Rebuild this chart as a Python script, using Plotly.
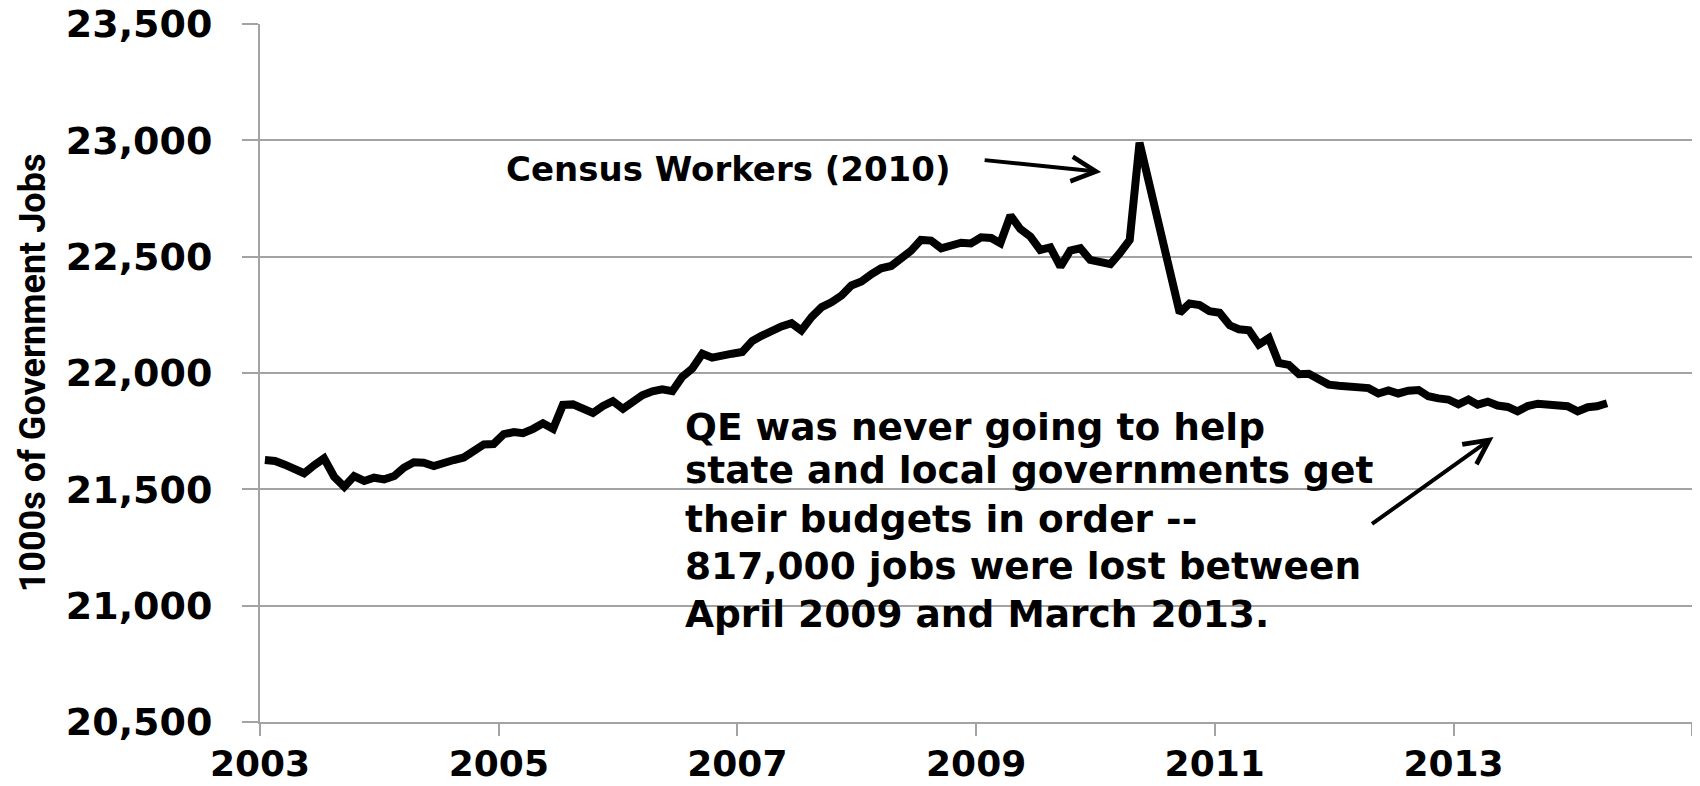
import pandas as pd
import plotly.graph_objects as go

# monthly government employment, thousands, Jan 2003 .. Apr 2014
jobs = [
    21626, 21622, 21607, 21590, 21569, 21604, 21633, 21554, 21511, 21557, 21536, 21550,  # 2003
    21543, 21557, 21593, 21616, 21614, 21600, 21609, 21626, 21637, 21662, 21693, 21695,  # 2004
    21737, 21746, 21741, 21760, 21784, 21760, 21863, 21865, 21846, 21828, 21858, 21879,  # 2005
    21846, 21875, 21904, 21921, 21930, 21922, 21983, 22019, 22083, 22066, 22079, 22083,  # 2006
    22090, 22138, 22160, 22185, 22200, 22214, 22183, 22240, 22283, 22304, 22333, 22376,  # 2007
    22393, 22425, 22450, 22460, 22493, 22526, 22572, 22569, 22536, 22550, 22560, 22557,  # 2008
    22583, 22580, 22558, 22677, 22619, 22586, 22529, 22540, 22457, 22526, 22536, 22486,  # 2009
    22481, 22468, 22514, 22572, 22990, 22801, 22615, 22435, 22259, 22299, 22292, 22266,  # 2010
    22259, 22205, 22188, 22184, 22122, 22150, 22043, 22035, 21995, 21997, 21970, 21950,  # 2011
    21945, 21943, 21941, 21935, 21912, 21925, 21912, 21924, 21927, 21900, 21891, 21886,  # 2012
    21865, 21886, 21864, 21877, 21860, 21854, 21835, 21858, 21868, 21862, 21860, 21857,  # 2013
    21835, 21853, 21857, 21870,  # 2014
]
start_month = "2003-01-01"

year_ticks = ["2003-01-01", "2005-01-01", "2007-01-01", "2009-01-01",
              "2011-01-01", "2013-01-01", "2015-01-01"]
year_labels = ["2003", "2005", "2007", "2009", "2011", "2013", ""]
y_ticks = [20500, 21000, 21500, 22000, 22500, 23000, 23500]

census_note = "Census Workers (2010)"
qe_lines = [
    "QE was never going to help",
    "state and local governments get",
    "their budgets in order --",
    "817,000 jobs were lost between",
    "April 2009 and March 2013.",
]
y_title = "1000s of Government Jobs"

# points sit mid-month, like Excel's date axis
months = pd.date_range(start_month, periods=len(jobs), freq="MS") + pd.Timedelta(days=15)

GRID = "#a3a3a3"
BOLD = dict(family="DejaVu Sans", color="black", weight="bold")

fig = go.Figure()
fig.add_trace(go.Scatter(x=months, y=jobs, mode="lines",
                         line=dict(color="black", width=8), hoverinfo="x+y"))

# page body keeps its default 8px margin, so the figure is 16px smaller than the window
fig.update_layout(
    width=1684, height=770,
    margin=dict(l=252, r=0, t=16, b=56),
    paper_bgcolor="white", plot_bgcolor="white",
    showlegend=False,
    xaxis=dict(
        type="date", range=["2003-01-01", "2015-01-01"],
        tickvals=year_ticks, ticktext=year_labels,
        showgrid=False, showline=True, linecolor=GRID, linewidth=2,
        ticks="outside", ticklen=12, tickwidth=2, tickcolor=GRID,
        tickfont=dict(size=36, **BOLD), ticklabelstandoff=-3,
        ticklabeloverflow="allow", automargin=False,
    ),
    yaxis=dict(
        range=[20500, 23500], tickvals=y_ticks, tickformat=",d",
        showgrid=True, gridcolor=GRID, gridwidth=2,
        showline=True, linecolor=GRID, linewidth=2,
        ticks="outside", ticklen=16, tickwidth=2, tickcolor=GRID,
        tickfont=dict(size=38, **BOLD), ticklabelstandoff=22,
        ticklabeloverflow="allow", zeroline=False, automargin=False,
        title=dict(text=y_title, standoff=9,
                   font=dict(family="Roboto", size=36, color="black", weight="bold")),
    ),
)

fig.add_annotation(
    text=census_note, xref="paper", yref="paper", x=0.1706, y=0.7918,
    xanchor="left", yanchor="middle", showarrow=False,
    font=dict(size=34, **BOLD),
)
fig.add_annotation(
    text="", xref="paper", yref="paper", x=0.5874, y=0.788,
    ax=-118, ay=-12, showarrow=True,
    arrowhead=5, arrowsize=1.2, arrowwidth=4, arrowcolor="black",
)

# one annotation per line so the line spacing follows the original
qe_rows_y = [0.4228, 0.3617, 0.2908, 0.2241, 0.1542]
for line, yy in zip(qe_lines, qe_rows_y):
    fig.add_annotation(
        text=line, xref="paper", yref="paper", x=0.2954, y=yy,
        xanchor="left", yanchor="middle", align="left", showarrow=False,
        font=dict(size=37.5, **BOLD),
    )
fig.add_annotation(
    text="", xref="paper", yref="paper", x=0.8614, y=0.4083,
    ax=-123, ay=88, showarrow=True,
    arrowhead=5, arrowsize=1.2, arrowwidth=4, arrowcolor="black",
)

fig.write_html("out.html")
